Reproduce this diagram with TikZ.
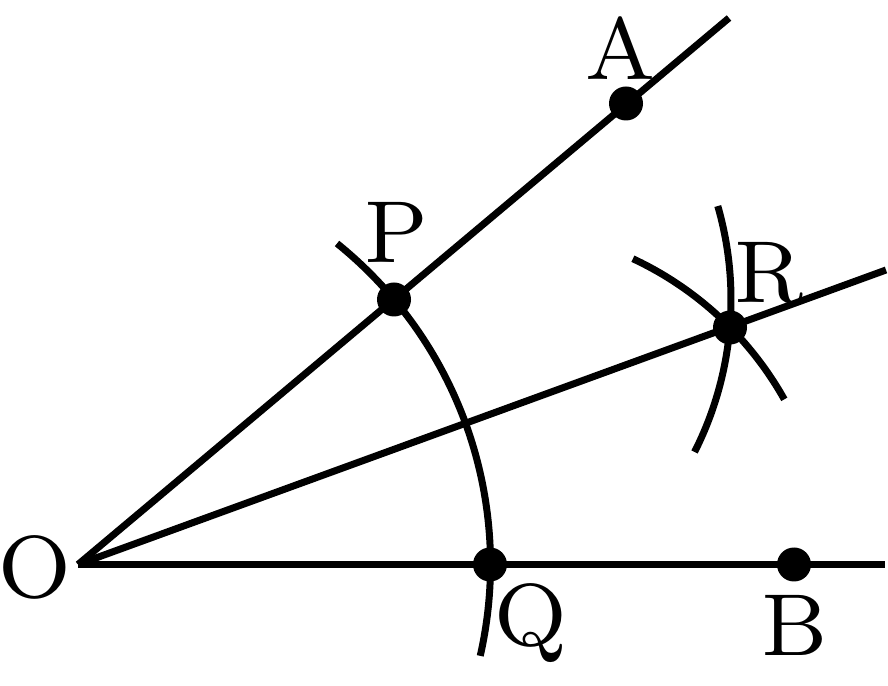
\documentclass[tikz,border=0pt]{standalone}
\tikzset{
  ln/.style={line width=7pt,black},
  dot/.style={circle,fill=black,draw=none,minimum size=34pt,inner sep=0pt},
  lab/.style={anchor=base,inner sep=0pt,scale=11,font=\fontsize{8}{8}\selectfont}
}
\begin{document}
\begin{tikzpicture}[x=1pt,y=1pt]
\useasboundingbox (0,0) rectangle (888,685);
% free ends
\coordinate (O) at (78,120.5);
\coordinate (Aend) at (729,667);
\coordinate (Rend) at (886,415);
\coordinate (Bend) at (885,120.5);
% rays and arcs
\draw[ln] (O) -- (Aend);
\draw[ln] (O) -- (Rend);
\draw[ln] (O) -- (Bend);
\draw[ln] (O) ++(-12.8:412.5) arc[start angle=-12.8,end angle=51.1,radius=412.5];
\draw[ln] (490,120.5) ++(64.95:337.5) arc[start angle=64.95,end angle=29.3,radius=337.5];
\draw[ln] (394,385.5) ++(16.1:337) arc[start angle=16.1,end angle=-26.9,radius=337];
% points
\node[dot] (ptA) at (626,581.5) {};
\node[dot] (ptP) at (394,385.5) {};
\node[dot] (ptR) at (730,357.5) {};
\node[dot] (ptQ) at (490,120.5) {};
\node[dot] (ptB) at (794,120.5) {};
% labels
\node[lab] (lA) at (621,605) {A};
\node[lab] (lP) at (396,422) {P};
\node[lab] (lR) at (769,382) {R};
\node[lab] (lO) at (35,88) {O};
\node[lab] (lQ) at (531,40) {Q};
\node[lab] (lB) at (795,30) {B};
\end{tikzpicture}
\end{document}
